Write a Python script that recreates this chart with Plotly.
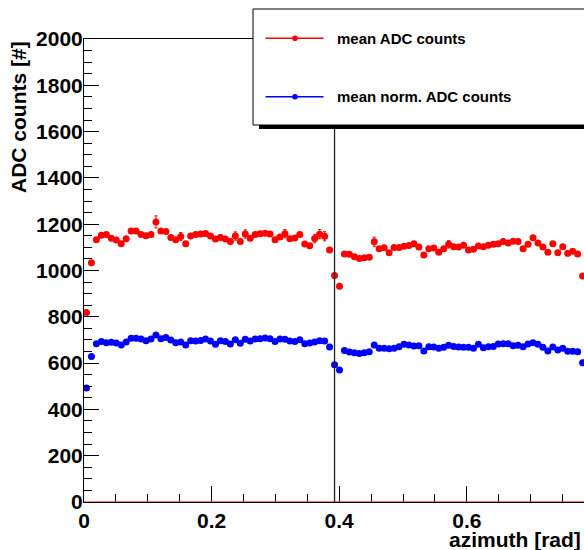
import math
import plotly.graph_objects as go

# ---------------- data ----------------
n_bins = 101
phi_max = math.pi / 4          # histogram range [0, pi/4]
phi_sector = math.pi / 8       # vertical marker line

mean_adc = [819, 1034, 1133, 1152, 1155, 1139, 1132, 1116, 1137, 1171,
            1171, 1156, 1150, 1156, 1210, 1171, 1168, 1143, 1133, 1147,
            1116, 1149, 1155, 1158, 1160, 1149, 1136, 1143, 1136, 1125,
            1149, 1125, 1158, 1139, 1155, 1159, 1161, 1158, 1133, 1145,
            1159, 1137, 1140, 1156, 1114, 1107, 1138, 1157, 1148, 1089,
            978, 932, 1071, 1070, 1059, 1052, 1055, 1057, 1124, 1094,
            1098, 1077, 1099, 1099, 1105, 1108, 1116, 1102, 1067, 1094,
            1097, 1079, 1094, 1113, 1103, 1102, 1109, 1089, 1092, 1106,
            1103, 1109, 1113, 1116, 1125, 1119, 1126, 1125, 1094, 1113,
            1142, 1119, 1102, 1079, 1116, 1077, 1103, 1074, 1083, 1071,
            976]
mean_adc_err = [9] * n_bins
for _i, _e in {14: 26, 19: 17, 30: 18, 32: 18, 40: 18, 46: 18, 47: 20,
               48: 20, 58: 20, 73: 16}.items():
    mean_adc_err[_i] = _e

mean_norm_adc = [492, 628, 684, 693, 688, 690, 687, 678, 691, 707,
                 707, 704, 697, 704, 721, 705, 711, 700, 688, 691,
                 678, 697, 695, 698, 704, 695, 681, 697, 693, 683,
                 701, 686, 703, 695, 704, 705, 708, 705, 693, 704,
                 703, 695, 693, 701, 684, 687, 691, 697, 695, 670,
                 593, 570, 654, 648, 645, 641, 645, 649, 678, 664,
                 664, 662, 664, 671, 681, 678, 674, 675, 652, 671,
                 670, 664, 668, 677, 672, 670, 668, 668, 664, 681,
                 666, 671, 672, 683, 684, 684, 675, 677, 671, 683,
                 688, 681, 668, 652, 670, 657, 664, 651, 651, 649,
                 602]
mean_norm_adc_err = [5] * n_bins

x_ticks = [0, 0.2, 0.4, 0.6]
x_tick_text = ["0", "0.2", "0.4", "0.6"]
y_ticks = [0, 200, 400, 600, 800, 1000, 1200, 1400, 1600, 1800, 2000]

names = ["mean ADC counts", "mean norm. ADC counts"]
colors = ["#ff0000", "#0000ff"]

bin_w = phi_max / n_bins
phi = [(i + 0.5) * bin_w for i in range(n_bins)]

# ---------------- figure ----------------
W, H = 584, 550
L, R, T, B = 84, 0, 39, 48
pw, ph = W - L - R, H - T - B
x_end = pw / 638.0


def px(xp):
    return (xp - L) / pw


def py(yp):
    return (H - B - yp) / ph


FONT = "Liberation Sans, Arial, Helvetica, sans-serif"

fig = go.Figure()
for vals, errs, name, col in [(mean_adc, mean_adc_err, names[0], colors[0]),
                              (mean_norm_adc, mean_norm_adc_err, names[1], colors[1])]:
    fig.add_trace(go.Scatter(
        x=phi, y=vals, mode="markers", name=name, showlegend=False,
        marker=dict(color=col, size=7, line=dict(width=0)),
        error_y=dict(type="data", array=errs, visible=True, color=col,
                     thickness=1, width=1.5),
        cliponaxis=False,
    ))

shapes = []
shapes.append(dict(type="line", xref="x", yref="y", x0=0, x1=x_end, y0=0, y1=0,
                   line=dict(color="#ff0000", width=1), layer="above"))
shapes.append(dict(type="line", xref="x", yref="y", x0=phi_sector, x1=phi_sector,
                   y0=0, y1=2000, line=dict(color="#222222", width=1.3), layer="above"))
shapes.append(dict(type="rect", xref="paper", yref="paper",
                   x0=px(259), x1=px(620), y0=py(129), y1=py(20),
                   fillcolor="black", line=dict(width=0), layer="above"))
shapes.append(dict(type="rect", xref="paper", yref="paper",
                   x0=px(253), x1=px(620), y0=py(125), y1=py(9),
                   fillcolor="white", line=dict(color="black", width=1), layer="above"))

annotations = []
for k, (yy, name, col) in enumerate(zip([38.3, 96.7], names, colors)):
    shapes.append(dict(type="line", xref="paper", yref="paper",
                       x0=px(265.5), x1=px(323.5), y0=py(yy), y1=py(yy),
                       line=dict(color=col, width=1.5), layer="above"))
    shapes.append(dict(type="circle", xref="paper", yref="paper",
                       x0=px(295 - 2.8), x1=px(295 + 2.8), y0=py(yy + 2.8), y1=py(yy - 2.8),
                       fillcolor=col, line=dict(color=col, width=0), layer="above"))
    annotations.append(dict(xref="paper", yref="paper", x=px(335), y=py(yy),
                            xanchor="left", yanchor="middle", showarrow=False,
                            text=name, font=dict(family=FONT, size=15, color="black",
                                                 weight="bold")))

annotations.append(dict(xref="paper", yref="paper", x=px(583), y=py(539),
                        xanchor="right", yanchor="middle", showarrow=False,
                        text="azimuth [rad]",
                        font=dict(family=FONT, size=21, color="black", weight="bold")))
annotations.append(dict(xref="paper", yref="paper", x=px(18), y=py(39),
                        xanchor="center", yanchor="top", showarrow=False, textangle=-90,
                        text="ADC counts [#]",
                        font=dict(family=FONT, size=21, color="black", weight="bold")))

axis_common = dict(showline=True, linecolor="black", linewidth=1, mirror=True,
                   ticks="inside", tickcolor="black", tickwidth=1,
                   showgrid=False, zeroline=False,
                   tickfont=dict(family=FONT, size=21, color="black", weight="bold"))

fig.update_layout(
    width=W, height=H,
    margin=dict(l=L, r=R, t=T, b=B, pad=0),
    paper_bgcolor="white", plot_bgcolor="white",
    xaxis=dict(range=[0, x_end], tickvals=x_ticks, ticktext=x_tick_text, ticklen=16,
               minor=dict(dtick=0.05, tick0=0, ticks="inside", ticklen=8,
                          tickcolor="black", tickwidth=1),
               **axis_common),
    yaxis=dict(range=[0, 2000], tickvals=y_ticks, ticklen=15, ticklabelstandoff=-4,
               minor=dict(dtick=50, tick0=0, ticks="inside", ticklen=8,
                          tickcolor="black", tickwidth=1),
               **axis_common),
    shapes=shapes, annotations=annotations, showlegend=False,
)

fig.write_html(
    "out.html",
    config={"displayModeBar": False},
    post_script="document.body.style.margin='0';document.body.style.overflow='hidden';",
)
